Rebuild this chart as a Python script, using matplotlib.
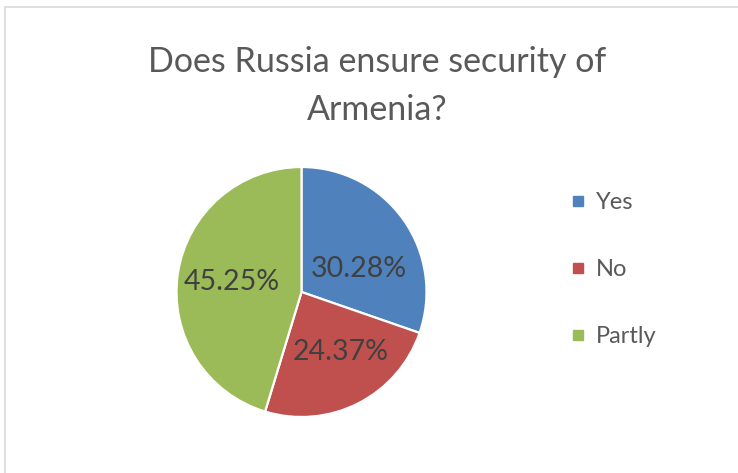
import matplotlib
matplotlib.use("Agg")
import matplotlib.pyplot as plt
from matplotlib.patches import Rectangle
from matplotlib.lines import Line2D

plt.rcParams['font.family'] = ['Lato', 'DejaVu Sans']

title = "Does Russia ensure security of\nArmenia?"
categories = ["Yes", "No", "Partly"]
shares = [30.28, 24.37, 45.25]
colors = ["#4F81BD", "#C0504D", "#9BBB59"]

W, H = 738, 473
fig = plt.figure(figsize=(W / 100, H / 100), dpi=100)

# light chart-area frame (right/bottom edges cut off in the source)
fig.patches.append(Rectangle((5 / W, -0.05), 1.0, (H - 7) / H + 0.05,
                             transform=fig.transFigure, fill=False,
                             edgecolor="#d9d9d9", linewidth=1.2))

# pie: centre (301.5, 292) px, radius 125 px
cx, cy, r = 301.5, H - 292, 125
ax = fig.add_axes([(cx - r) / W, (cy - r) / H, 2 * r / W, 2 * r / H])
wedges, texts, autotexts = ax.pie(
    shares, colors=colors, startangle=90, counterclock=False,
    autopct="%.2f%%", pctdistance=0.56,
    wedgeprops=dict(edgecolor="white", linewidth=1.6),
    textprops=dict(color="#404040", fontsize=20.5))
for t, v in zip(autotexts, shares):
    t.set_text(f"{v:.2f}%")
ax.set_xlim(-1, 1)
ax.set_ylim(-1, 1)
ax.set_aspect("equal")

# nudge labels toward Excel's best-fit placement
x0, y0 = autotexts[0].get_position()
autotexts[0].set_position((x0, y0 - 0.14))
x1, y1 = autotexts[1].get_position()
autotexts[1].set_position((x1 + 0.06, y1 + 0.02))

fig.text(0.5 * (148 + 606) / W, 1 - 86 / H, title, ha="center", va="center",
         fontsize=24.5, color="#595959", linespacing=1.6)

handles = [Line2D([], [], marker="s", linestyle="none", markersize=7,
                  markerfacecolor=c, markeredgecolor=c) for c in colors]
fig.legend(handles, categories, loc="upper left",
           bbox_to_anchor=(545 / W, 1 - 171 / H), frameon=False,
           fontsize=17, labelcolor="#595959", labelspacing=1.95,
           handletextpad=0.25, handlelength=1.0)

fig.savefig("out.png", dpi=100)
